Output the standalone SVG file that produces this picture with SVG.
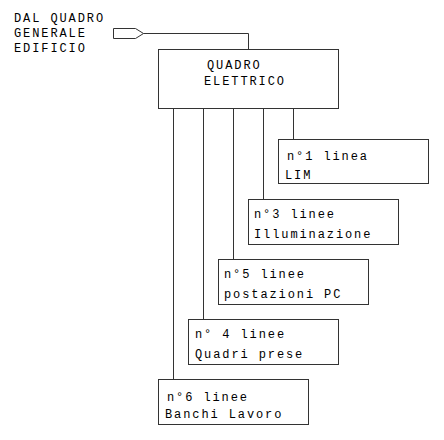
<svg xmlns="http://www.w3.org/2000/svg" width="444" height="440" viewBox="0 0 444 440">
<style>
rect.n{fill:#fff;stroke:#333;stroke-width:1}
text{font-family:"Liberation Mono","Courier New",monospace;font-size:12px;letter-spacing:1.9px;fill:#000}
.c{fill:none;stroke:#333;stroke-width:1}
</style>
<rect width="444" height="440" fill="#fff"/>
<g id="source">
<text x="14" y="22">DAL QUADRO</text>
<text x="14" y="37">GENERALE</text>
<text x="14" y="52">EDIFICIO</text>
<polygon points="113.5,28.5 135.5,28.5 143.5,33.5 135.5,38.5 113.5,38.5" fill="#fff" stroke="#333"/>
</g>
<g id="connectors">
<polyline class="c" points="143.5,33.5 248.5,33.5 248.5,49"/>
<line class="c" x1="293.5" y1="109" x2="293.5" y2="139"/>
<line class="c" x1="263.5" y1="109" x2="263.5" y2="199"/>
<line class="c" x1="233.5" y1="109" x2="233.5" y2="259"/>
<line class="c" x1="203.5" y1="109" x2="203.5" y2="319"/>
<line class="c" x1="173.5" y1="109" x2="173.5" y2="379"/>
</g>
<g id="quadro">
<rect class="n" x="158.5" y="49.5" width="180" height="59"/>
<text x="207" y="69">QUADRO</text>
<text x="204" y="85">ELETTRICO</text>
</g>
<g id="lim">
<rect class="n" x="278.5" y="139.5" width="150" height="44"/>
<text x="287" y="160">n°1 linea</text>
<text x="285" y="179">LIM</text>
</g>
<g id="illuminazione">
<rect class="n" x="248.5" y="199.5" width="150" height="45"/>
<text x="254" y="218">n°3 linee</text>
<text x="254" y="238">Illuminazione</text>
</g>
<g id="pc">
<rect class="n" x="218.5" y="259.5" width="150" height="45"/>
<text x="224" y="278">n°5 linee</text>
<text x="224" y="298">postazioni PC</text>
</g>
<g id="prese">
<rect class="n" x="188.5" y="319.5" width="150" height="45"/>
<text x="195" y="338">n° 4 linee</text>
<text x="195" y="358">Quadri prese</text>
</g>
<g id="banchi">
<rect class="n" x="158.5" y="379.5" width="150" height="45"/>
<text x="167" y="401">n°6 linee</text>
<text x="165" y="418">Banchi Lavoro</text>
</g>
</svg>
